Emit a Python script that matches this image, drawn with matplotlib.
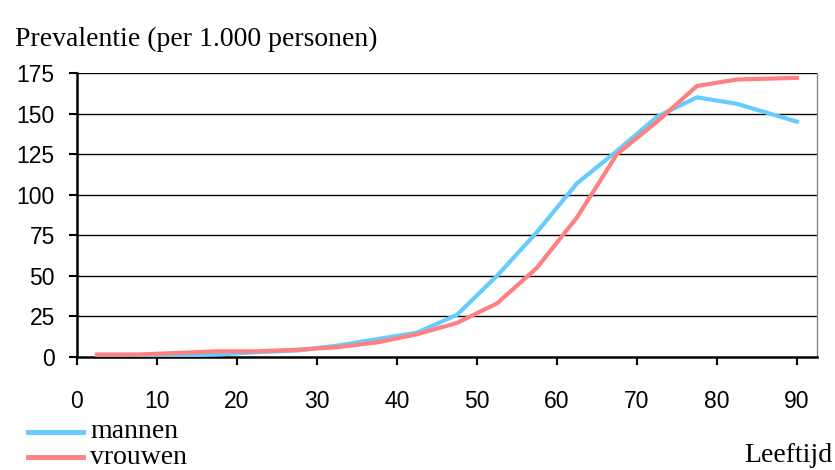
import matplotlib
matplotlib.use('Agg')
import matplotlib.pyplot as plt
from matplotlib.lines import Line2D

age = [2.5, 7.5, 12.5, 17.5, 22.5, 27.5, 32.5, 37.5, 42.5, 47.5,
       52.5, 57.5, 62.5, 67.5, 72.5, 77.5, 82.5, 90]
mannen = [0, 0.5, 1, 1.5, 3, 4, 7, 11, 15, 26,
          50, 77, 107, 127, 148, 160, 156, 145]
vrouwen = [1.5, 1.5, 2.5, 3.5, 3.5, 4.5, 6, 9, 14, 21,
           33, 55, 86, 125, 145, 167, 171, 172]
xticks = [0, 10, 20, 30, 40, 50, 60, 70, 80, 90]
yticks = [0, 25, 50, 75, 100, 125, 150, 175]
series = [('mannen', mannen, '#66CCFF'), ('vrouwen', vrouwen, '#FF8080')]

serif = 'Liberation Serif'
sans = 'Liberation Sans'

fig = plt.figure(figsize=(8.35, 4.7), dpi=100)
ax = fig.add_axes([0.0922, 0.2404, 0.8862, 0.6043])

for y in yticks[1:]:
    ax.axhline(y, color='black', lw=1, zorder=1)

for name, vals, col in series:
    ax.plot(age, vals, color=col, lw=3, label=name, zorder=3)

ax.set_xlim(0, 92.5)
ax.set_ylim(0, 175)
ax.set_xticks(xticks)
ax.set_yticks(yticks)
ax.tick_params(axis='both', direction='out', length=6, width=1.5, color='black')
ax.tick_params(axis='x', pad=18)
ax.tick_params(axis='y', pad=10)
for lab in ax.get_xticklabels() + ax.get_yticklabels():
    lab.set_fontfamily(sans)
    lab.set_fontsize(16.5)

ax.spines['top'].set_visible(False)
ax.spines['left'].set_linewidth(1.8)
ax.spines['bottom'].set_linewidth(1.8)
ax.spines['right'].set_color('#888888')
ax.spines['right'].set_linewidth(1)

fig.text(0.018, 0.917, 'Prevalentie (per 1.000 personen)', family=serif,
         fontsize=20, va='center', ha='left')
fig.text(0.997, 0.030, 'Leeftijd', family=serif, fontsize=20,
         va='center', ha='right')

# legend, drawn by hand
for i, (name, vals, col) in enumerate(series):
    yy = 1 - (432 + 25 * i) / 470
    fig.add_artist(Line2D([28 / 835, 83 / 835], [yy, yy], color=col, lw=3.5,
                          transform=fig.transFigure))
    fig.text(90 / 835, yy, name, family=serif, fontsize=20, va='center',
             ha='left')

fig.savefig('out.png', dpi=100)
